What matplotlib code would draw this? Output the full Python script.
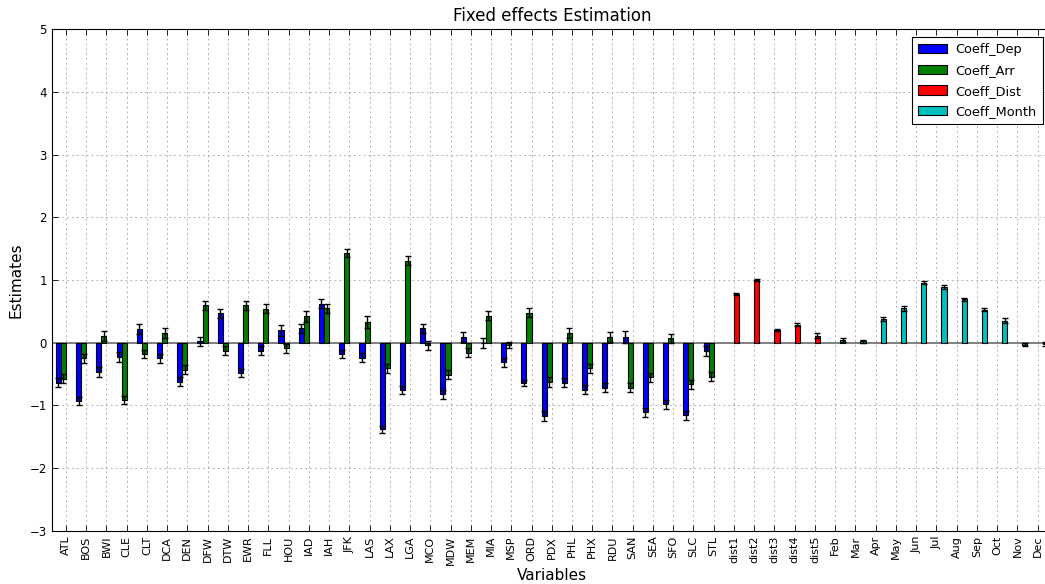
import matplotlib
matplotlib.use("Agg")
import matplotlib.pyplot as plt
import numpy as np

# airport fixed effects (departure / arrival)
airports = ["ATL", "BOS", "BWI", "CLE", "CLT", "DCA", "DEN", "DFW", "DTW", "EWR",
            "FLL", "HOU", "IAD", "IAH", "JFK", "LAS", "LAX", "LGA", "MCO", "MDW",
            "MEM", "MIA", "MSP", "ORD", "PDX", "PHL", "PHX", "RDU", "SAN", "SEA",
            "SFO", "SLC", "STL"]
coeff_dep = [-0.64, -0.93, -0.46, -0.23, 0.22, -0.25, -0.62, 0.02, 0.47, -0.48,
             -0.13, 0.20, 0.23, 0.62, -0.18, -0.24, -1.38, -0.75, 0.23, -0.82,
             0.09, -0.01, -0.31, -0.64, -1.17, -0.64, -0.75, -0.72, 0.09, -1.11,
             -0.98, -1.16, -0.13]
err_dep = [0.07, 0.065, 0.08, 0.08, 0.075, 0.07, 0.07, 0.07, 0.07, 0.065,
           0.07, 0.09, 0.07, 0.07, 0.07, 0.07, 0.06, 0.06, 0.07, 0.07,
           0.08, 0.08, 0.07, 0.05, 0.08, 0.07, 0.07, 0.07, 0.09, 0.07,
           0.07, 0.07, 0.08]
coeff_arr = [-0.575, -0.25, 0.11, -0.91, -0.18, 0.16, -0.43, 0.60, -0.13, 0.60,
             0.54, -0.09, 0.42, 0.55, 1.43, 0.33, -0.41, 1.31, -0.04, -0.51,
             -0.16, 0.43, -0.04, 0.48, -0.63, 0.15, -0.41, 0.09, -0.72, -0.55,
             0.07, -0.66, -0.54]
err_arr = [0.07, 0.07, 0.08, 0.06, 0.07, 0.08, 0.07, 0.07, 0.07, 0.07,
           0.07, 0.07, 0.09, 0.07, 0.065, 0.09, 0.07, 0.07, 0.07, 0.07,
           0.07, 0.07, 0.05, 0.07, 0.08, 0.08, 0.07, 0.08, 0.07, 0.07,
           0.07, 0.07, 0.07]

# distance buckets
dist_labels = ["dist1", "dist2", "dist3", "dist4", "dist5"]
coeff_dist = [0.78, 1.00, 0.20, 0.29, 0.11]
err_dist = [0.02, 0.02, 0.02, 0.03, 0.04]

# month dummies (Jan is the baseline)
months = ["Feb", "Mar", "Apr", "May", "Jun", "Jul", "Aug", "Sep", "Oct", "Nov", "Dec"]
coeff_month = [0.04, 0.02, 0.38, 0.55, 0.96, 0.89, 0.69, 0.53, 0.35, -0.03, -0.02]
err_month = [0.03, 0.03, 0.03, 0.04, 0.03, 0.03, 0.03, 0.03, 0.04, 0.03, 0.03]

labels = airports + dist_labels + months
x = np.arange(len(labels))
x_air = x[:len(airports)]
x_dist = x[len(airports):len(airports) + len(dist_labels)]
x_month = x[len(airports) + len(dist_labels):]

w = 0.25
fig = plt.figure(figsize=(10.45, 5.84), dpi=100)
ax = fig.add_axes([0.0495, 0.091, 0.957, 0.859])

bar_kw = dict(width=w, align="edge", edgecolor="black", linewidth=0.8, zorder=3)
err_kw = dict(ecolor="black", capsize=2.5, elinewidth=1, capthick=1)

ax.bar(x_air - 2 * w, coeff_dep, color="#0000ff", label="Coeff_Dep",
       yerr=err_dep, error_kw=err_kw, **bar_kw)
ax.bar(x_air - w, coeff_arr, color="#008000", label="Coeff_Arr",
       yerr=err_arr, error_kw=err_kw, **bar_kw)
ax.bar(x_dist, coeff_dist, color="#ff0000", label="Coeff_Dist",
       yerr=err_dist, error_kw=err_kw, **bar_kw)
ax.bar(x_month + w, coeff_month, color="#00bfbf", label="Coeff_Month",
       yerr=err_month, error_kw=err_kw, **bar_kw)

ax.axhline(0, color="0.5", lw=1.4, zorder=2)

ax.set_xlim(-0.7, len(labels) - 1 + 0.7)
ax.set_ylim(-3, 5)
ax.set_xticks(x)
ax.set_xticklabels(labels, rotation=90, fontsize=8)
ax.set_yticks(np.arange(-3, 6))
ax.set_yticklabels([f"{v:d}".replace("-", "\u2212") for v in range(-3, 6)], fontsize=8.5)
ax.tick_params(direction="in", top=True, right=True, length=4, width=0.6)
ax.grid(True, color="0.7", linestyle=(0, (2, 3)), linewidth=0.7, zorder=0)
ax.set_axisbelow(True)

ax.set_title("Fixed effects Estimation", fontsize=12, pad=6)
ax.set_xlabel("Variables", fontsize=11, labelpad=2)
ax.set_ylabel("Estimates", fontsize=11)

leg = ax.legend(loc="upper right", bbox_to_anchor=(0.991, 0.984), fontsize=9.3,
                fancybox=False, framealpha=1, edgecolor="black",
                handlelength=2.2, handletextpad=0.7, borderpad=0.45,
                labelspacing=0.6, borderaxespad=0)
leg.get_frame().set_linewidth(0.8)

fig.savefig("out.png", dpi=100, facecolor="white")
